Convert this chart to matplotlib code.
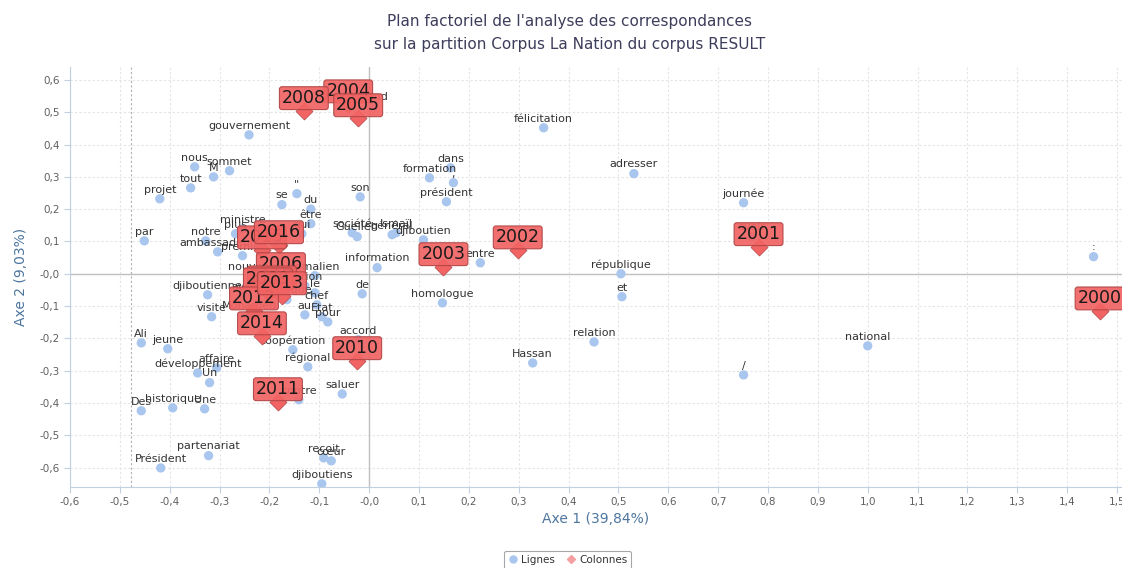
import matplotlib
matplotlib.use('Agg')
import matplotlib.pyplot as plt
from matplotlib.lines import Line2D
import numpy as np

# Lignes (mots) : coordonnées sur les axes 1 et 2
mots = ['grand', 'gouvernement', 'nous', 'M', 'sommet', 'tout', 'projet', '"',
        'se', 'du', 'son', 'être', 'qui', 'ministre', 'plus', 'notre',
        'ambassadeur', 'premier', 'par', 'société', 'Guelleh', 'général',
        'Ismaïl', 'djiboutien', 'information', 'de', 'somalien', 'nation',
        'le', 'chef', 'au', 'Etat', 'pour', 'politique', 'avec', 'Mohamed',
        'nouveau', 'djiboutienne', 'visite', 'Ali', 'jeune', 'coopération',
        'accord', 'régional', 'affaire', 'développement', 'Un', 'contre',
        'saluer', 'Des', 'historique', 'Une', 'partenariat', 'Président',
        'reçoit', 'cœur', 'djiboutiens', 'formation', 'dans', ',',
        'président', 'félicitation', 'adresser', 'journée', 'avoir', ':',
        'république', 'et', 'national', '/', 'relation', 'Hassan',
        'homologue', 'entre']
mots_x = [0.006, -0.241, -0.350, -0.312, -0.280, -0.358, -0.420, -0.145,
          -0.175, -0.117, -0.018, -0.117, -0.135, -0.254, -0.268, -0.328,
          -0.304, -0.254, -0.451, -0.034, -0.024, 0.046,
          0.054, 0.109, 0.016, -0.014, -0.109, -0.129,
          -0.109, -0.105, -0.129, -0.095, -0.083, -0.165, -0.250, -0.239,
          -0.235, -0.324, -0.316, -0.457, -0.404, -0.153,
          -0.022, -0.123, -0.306, -0.344, -0.320, -0.141,
          -0.054, -0.457, -0.394, -0.330, -0.322, -0.418,
          -0.091, -0.076, -0.095, 0.121, 0.163, 0.169,
          0.155, 0.350, 0.531, 0.751, 0.767, 1.453,
          0.505, 0.507, 1.000, 0.751, 0.451, 0.328,
          0.147, 0.223]
mots_y = [0.520, 0.430, 0.331, 0.300, 0.319, 0.266, 0.232, 0.248,
          0.214, 0.200, 0.238, 0.155, 0.124, 0.139, 0.124, 0.102,
          0.068, 0.056, 0.102, 0.127, 0.115, 0.121,
          0.127, 0.105, 0.019, -0.062, -0.006, -0.037,
          -0.059, -0.096, -0.127, -0.133, -0.149, -0.080, -0.068, -0.127,
          -0.006, -0.065, -0.133, -0.214, -0.232, -0.235,
          -0.204, -0.288, -0.291, -0.307, -0.337, -0.390,
          -0.372, -0.424, -0.415, -0.418, -0.563, -0.601,
          -0.570, -0.579, -0.650, 0.297, 0.328, 0.282,
          0.223, 0.452, 0.310, 0.220, 0.115, 0.053,
          0.000, -0.071, -0.223, -0.313, -0.211, -0.276,
          -0.090, 0.034]

# Colonnes (années)
annees = ['2000', '2001', '2002', '2003', '2004', '2005', '2006', '2007',
          '2008', '2009', '2010', '2011', '2012', '2013', '2014', '2015', '2016']
annees_x = [1.465, 0.781, 0.298, 0.149, -0.042, -0.022, -0.177, -0.195,
            -0.131, -0.203, -0.024, -0.183, -0.231, -0.175, -0.215, -0.215, -0.181]
annees_y = [-0.115, 0.084, 0.074, 0.022, 0.526, 0.483, -0.009, -0.050,
            0.505, -0.056, -0.269, -0.396, -0.115, -0.068, -0.192, 0.074, 0.090]

x_ticks = np.round(np.arange(-0.6, 1.51, 0.1), 1)
y_ticks = np.round(np.arange(-0.6, 0.61, 0.1), 1)

bleu = '#a9c6ee'
rouge = '#f26464'
rouge_bord = '#b04545'
gris_txt = '#606060'
titre_col = '#3d3d5c'
axe_col = '#4d759e'

fig = plt.figure(figsize=(11.22, 5.68), dpi=100)
ax = fig.add_axes([0.0624, 0.1426, 0.9376, 0.7394])
ax.set_xlim(-0.6, 1.51)
ax.set_ylim(-0.66, 0.64)

for v in x_ticks:
    ax.axvline(v, color='#e4e4e4', lw=0.8, ls=(0, (2, 2)), zorder=0)
for v in y_ticks:
    ax.axhline(v, color='#e4e4e4', lw=0.8, ls=(0, (2, 2)), zorder=0)
ax.axhline(0, color='#c0c0c0', lw=1, zorder=1)
ax.axvline(0, color='#c0c0c0', lw=1, zorder=1)
ax.axvline(-0.477, color='#b0b0b0', lw=0.8, ls=(0, (2, 2)), zorder=1)

ax.scatter(mots_x, mots_y, s=45, color=bleu, edgecolor='none', zorder=2)
for m, x, y in zip(mots, mots_x, mots_y):
    ax.annotate(m, (x, y), xytext=(0, 3), textcoords='offset points',
                ha='center', va='bottom', fontsize=8, color='#333333', zorder=3)

ax.scatter(annees_x, annees_y, s=75, marker='D', color=rouge,
           edgecolor=rouge_bord, linewidth=0.5, zorder=4)
for a, x, y in zip(annees, annees_x, annees_y):
    ax.annotate(a, (x, y), xytext=(0, 9), textcoords='offset points',
                ha='center', va='center', fontsize=12.5, color='#1a1a1a',
                bbox=dict(boxstyle='round,pad=0.14,rounding_size=0.15',
                          fc=rouge, ec=rouge_bord, lw=0.8, alpha=0.93),
                zorder=5, annotation_clip=False, clip_on=True)

ax.set_xticks(x_ticks)
ax.set_yticks(y_ticks)
ax.set_xticklabels([f'{v:.1f}'.replace('.', ',') for v in x_ticks])
ax.set_yticklabels([f'{v:.1f}'.replace('.', ',') for v in y_ticks])
ax.tick_params(axis='both', labelsize=7.5, colors=gris_txt, length=4,
               width=0.8, color='#c0d0e0')
ax.tick_params(axis='x', pad=3)
for side in ['top', 'right']:
    ax.spines[side].set_visible(False)
ax.spines['left'].set_color('#c0d0e0')
ax.spines['bottom'].set_color('#c0d0e0')

ax.set_xlabel('Axe 1 (39,84%)', fontsize=10, color=axe_col, labelpad=4)
ax.set_ylabel('Axe 2 (9,03%)', fontsize=10, color=axe_col, labelpad=8)

fig.text(0.508, 0.962, "Plan factoriel de l'analyse des correspondances",
         ha='center', va='center', fontsize=11, color=titre_col)
fig.text(0.508, 0.921, 'sur la partition Corpus La Nation du corpus RESULT',
         ha='center', va='center', fontsize=11, color=titre_col)

handles = [Line2D([], [], marker='o', ls='', color=bleu, markersize=5),
           Line2D([], [], marker='D', ls='', color='#f4a0a0', markersize=4.5)]
leg = fig.legend(handles, ['Lignes', 'Colonnes'], loc='center',
                 bbox_to_anchor=(0.506, 0.014), ncol=2, fontsize=7.5,
                 frameon=True, handletextpad=0.3, columnspacing=1.0,
                 borderpad=0.35, handlelength=1, borderaxespad=0)
leg.get_frame().set_edgecolor('#909090')
leg.get_frame().set_linewidth(0.8)
for t in leg.get_texts():
    t.set_color('#333333')

fig.savefig('out.png', dpi=100)
